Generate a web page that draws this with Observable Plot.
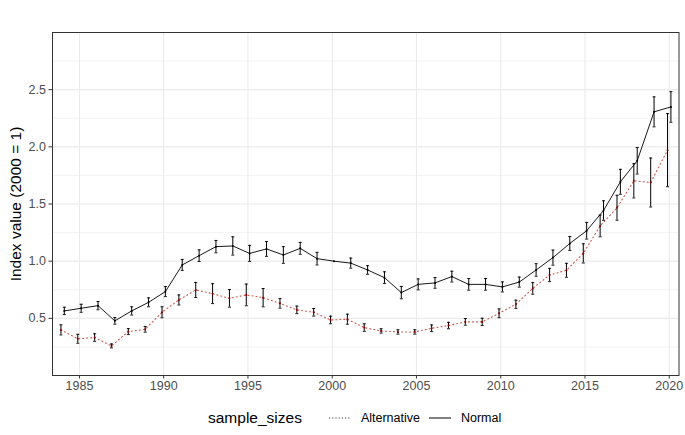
<!DOCTYPE html>
<html>
<head>
<meta charset="utf-8">
<script src="https://cdn.jsdelivr.net/npm/d3@7"></script>
<script src="https://cdn.jsdelivr.net/npm/@observablehq/plot@0.6"></script>
<style>
  html, body { margin: 0; padding: 0; background: #fff; }
  body { width: 685px; height: 435px; overflow: hidden; font-family: "Liberation Sans", Arial, sans-serif; }
  #chart svg { display: block; }
  #legend { display: flex; align-items: center; height: 35px; padding-left: 208px; font-family: "Liberation Sans", Arial, sans-serif; }
  #legend .title { font-size: 15.5px; color: #000; margin-right: 27px; }
  #legend .lab { font-size: 12.5px; color: #000; margin-left: 10px; margin-right: 9px; }
  #legend svg { display: block; }
</style>
</head>
<body>
<div id="chart"></div>
<div id="legend"></div>
<script>
const years = [1984,1985,1986,1987,1988,1989,1990,1991,1992,1993,1994,1995,1996,1997,1998,1999,2000,2001,2002,2003,2004,2005,2006,2007,2008,2009,2010,2011,2012,2013,2014,2015,2016,2017,2018,2019,2020];
const normalValues = [0.565,0.588,0.611,0.478,0.565,0.640,0.734,0.967,1.048,1.127,1.133,1.068,1.107,1.054,1.112,1.022,1.000,0.983,0.923,0.856,0.725,0.797,0.810,0.865,0.797,0.797,0.775,0.817,0.923,1.031,1.155,1.266,1.443,1.694,1.878,2.306,2.349];
const normalErrors = [0.032,0.035,0.036,0.029,0.036,0.039,0.044,0.048,0.051,0.054,0.080,0.070,0.065,0.073,0.052,0.055,0.000,0.044,0.038,0.051,0.054,0.048,0.047,0.047,0.051,0.051,0.044,0.044,0.055,0.066,0.061,0.073,0.085,0.109,0.116,0.131,0.134];
const alternativeValues = [0.399,0.321,0.332,0.259,0.384,0.404,0.553,0.661,0.748,0.716,0.675,0.705,0.681,0.631,0.574,0.553,0.486,0.492,0.419,0.390,0.381,0.381,0.413,0.437,0.469,0.469,0.544,0.623,0.762,0.879,0.920,1.068,1.308,1.467,1.703,1.688,1.971];
const alternativeErrors = [0.044,0.039,0.033,0.017,0.026,0.025,0.048,0.044,0.066,0.087,0.077,0.095,0.080,0.042,0.033,0.033,0.033,0.044,0.033,0.019,0.019,0.019,0.029,0.028,0.029,0.032,0.038,0.036,0.051,0.058,0.061,0.084,0.095,0.109,0.150,0.214,0.320];
const seriesNames = ["Alternative", "Normal"];
const xTicks = [1985,1990,1995,2000,2005,2010,2015,2020];
const yTicks = [0.5,1.0,1.5,2.0,2.5];
const yMinor = [0.25,0.75,1.25,1.75,2.25,2.75];
const yTitle = "Index value (2000 = 1)";

const dodge = {Alternative: -0.1, Normal: 0.1};
const capHalf = 0.09;
const rows = [];
years.forEach((yr, i) => {
  rows.push({year: yr, value: alternativeValues[i], err: alternativeErrors[i], series: "Alternative"});
  rows.push({year: yr, value: normalValues[i], err: normalErrors[i], series: "Normal"});
});
rows.forEach(d => { d.xd = d.year + dodge[d.series]; });
const alt = rows.filter(d => d.series === "Alternative");
const nor = rows.filter(d => d.series === "Normal");
const bars = rows.filter(d => d.err > 0);

const chart = Plot.plot({
  width: 685,
  height: 400,
  marginLeft: 52,
  marginRight: 6.5,
  marginTop: 32,
  marginBottom: 25,
  style: {fontFamily: "'Liberation Sans', Arial, sans-serif", background: "#fff"},
  x: {domain: [1983.4, 2020.58]},
  y: {domain: [0, 3]},
  marks: [
    Plot.ruleY(yMinor, {stroke: "#EBEBEB", strokeWidth: 0.6}),
    Plot.ruleY(yTicks, {stroke: "#EBEBEB", strokeWidth: 1.1}),
    Plot.ruleX(xTicks, {stroke: "#EBEBEB", strokeWidth: 1.1}),
    Plot.axisX({ticks: xTicks, tickFormat: d => String(d), tickSize: 3.5, tickPadding: 2, fontSize: 12.5, stroke: "#333", fill: "#4D4D4D", label: null}),
    Plot.axisY({ticks: yTicks, tickFormat: d => d.toFixed(1), tickSize: 3.5, tickPadding: 3, fontSize: 12.5, stroke: "#333", fill: "#4D4D4D", label: null}),
    Plot.text([yTitle], {text: d => d, frameAnchor: "left", textAnchor: "middle", rotate: -90, dx: -36, fontSize: 15.5, fill: "#000"}),
    Plot.line(alt, {x: "xd", y: "value", stroke: "#C0392B", strokeOpacity: 0.85, strokeWidth: 1.1, strokeDasharray: "1,3"}),
    Plot.line(nor, {x: "xd", y: "value", stroke: "#1a1a1a", strokeWidth: 1}),
    Plot.ruleX(bars, {x: "xd", y1: d => d.value - d.err, y2: d => d.value + d.err, stroke: "#000", strokeWidth: 1}),
    Plot.link(bars, {x1: d => d.xd - capHalf, x2: d => d.xd + capHalf, y1: d => d.value + d.err, y2: d => d.value + d.err, stroke: "#000", strokeWidth: 0.9}),
    Plot.link(bars, {x1: d => d.xd - capHalf, x2: d => d.xd + capHalf, y1: d => d.value - d.err, y2: d => d.value - d.err, stroke: "#000", strokeWidth: 0.9}),
    Plot.dot(alt, {x: "xd", y: "value", r: 1, fill: "#8B0000"}),
    Plot.dot(nor, {x: "xd", y: "value", r: 1, fill: "#000"}),
    Plot.frame({stroke: "#333", strokeWidth: 1})
  ]
});
document.getElementById("chart").appendChild(chart);

const legend = document.getElementById("legend");
const t = document.createElement("span");
t.className = "title";
t.textContent = "sample_sizes";
legend.appendChild(t);
const dashes = {Alternative: "1.2,2", Normal: null};
seriesNames.forEach(name => {
  const s = d3.create("svg").attr("width", 22).attr("height", 14);
  const ln = s.append("line").attr("x1", 0).attr("x2", 22).attr("y1", 7).attr("y2", 7)
    .attr("stroke", name === "Normal" ? "#000" : "#333").attr("stroke-width", 1);
  if (dashes[name]) ln.attr("stroke-dasharray", dashes[name]);
  legend.appendChild(s.node());
  const l = document.createElement("span");
  l.className = "lab";
  l.textContent = name;
  legend.appendChild(l);
});
</script>
</body>
</html>
